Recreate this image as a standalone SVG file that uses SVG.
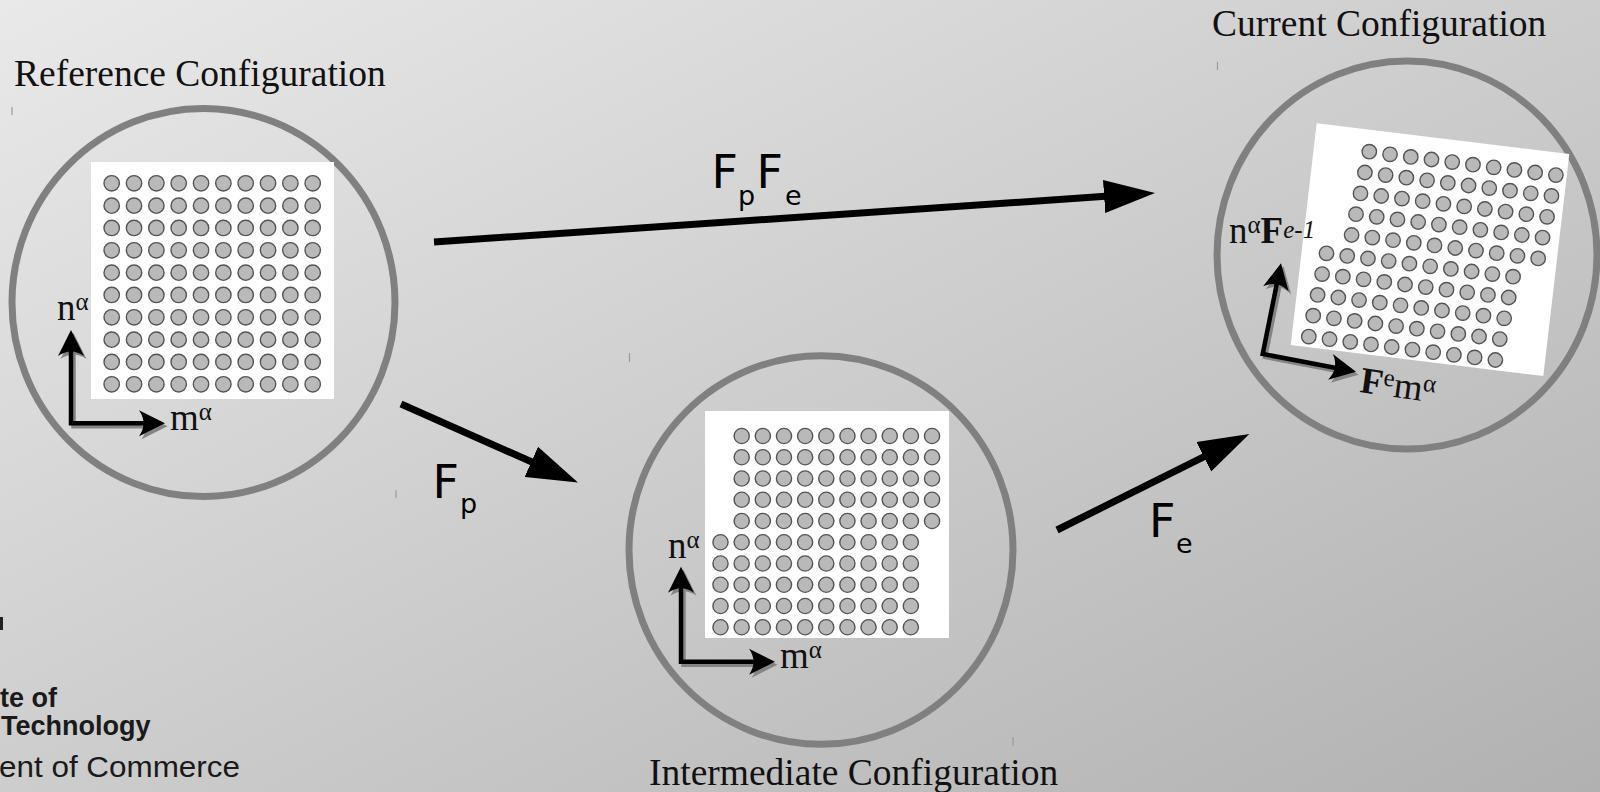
<svg xmlns="http://www.w3.org/2000/svg" xmlns:xlink="http://www.w3.org/1999/xlink" width="1600" height="792" viewBox="0 0 1600 792">
  <defs>
    <linearGradient id="bg" x1="0" y1="0" x2="1" y2="1">
      <stop offset="0" stop-color="#e9e9e9"/>
      <stop offset="1" stop-color="#b1b1b1"/>
    </linearGradient>
    <style>
      .ring { fill: none; stroke: #808080; stroke-width: 7; }
      .sheet { fill: #ffffff; }
      .dot { fill: #b9b9b9; stroke: #555555; stroke-width: 1.4; }
      .axis { fill: none; stroke: #000; stroke-width: 4.5; stroke-linejoin: miter; }
      .axis-sh { fill: none; stroke: #848484; stroke-width: 4.5; stroke-linejoin: miter; }
      .head { fill: #000; }
      .head-sh { fill: #848484; }
      .title { font-family: "Liberation Serif", "Times New Roman", serif; font-size: 37.5px; fill: #111; }
      .ax { font-family: "Liberation Serif", "Times New Roman", serif; font-size: 37px; fill: #111; }
      .axb { font-family: "Liberation Serif", "Times New Roman", serif; font-size: 37px; font-weight: bold; fill: #111; }
      .sup { font-size: 25px; }
      .map { font-family: "DejaVu Sans", "Open Sans", sans-serif; font-size: 46px; fill: #000; }
      .sub { font-size: 27px; }
      .flow { fill: none; stroke: #000; stroke-width: 7; }
      .tick { stroke: #9a9a9a; stroke-width: 1.2; }
      .logo { font-family: "Liberation Sans", Arial, sans-serif; fill: #1a1a1a; }
    </style>
    <!-- concave axis arrowhead, tip at origin pointing +x -->
    <path id="ah" d="M0,0 L-26,-13 Q-17,0 -26,13 Z"/>
    <!-- triangular head for the mapping arrows -->
    <marker id="tri" markerUnits="userSpaceOnUse" viewBox="0 -17 51 34" refX="5" refY="0" markerWidth="51" markerHeight="34" orient="auto">
      <path d="M0,-16.5 L51,0 L0,16.5 Z" fill="#000"/>
    </marker>
    <!-- rows of atoms -->
    <g id="rowA">
      <circle class="dot" cx="0" cy="0" r="7.7"/>
      <circle class="dot" cx="22.33" cy="0" r="7.7"/>
      <circle class="dot" cx="44.67" cy="0" r="7.7"/>
      <circle class="dot" cx="67" cy="0" r="7.7"/>
      <circle class="dot" cx="89.33" cy="0" r="7.7"/>
      <circle class="dot" cx="111.67" cy="0" r="7.7"/>
      <circle class="dot" cx="134" cy="0" r="7.7"/>
      <circle class="dot" cx="156.33" cy="0" r="7.7"/>
      <circle class="dot" cx="178.67" cy="0" r="7.7"/>
      <circle class="dot" cx="201" cy="0" r="7.7"/>
    </g>
    <g id="rowB">
      <circle class="dot" cx="0" cy="0" r="7.6"/>
      <circle class="dot" cx="21.15" cy="0" r="7.6"/>
      <circle class="dot" cx="42.3" cy="0" r="7.6"/>
      <circle class="dot" cx="63.45" cy="0" r="7.6"/>
      <circle class="dot" cx="84.6" cy="0" r="7.6"/>
      <circle class="dot" cx="105.75" cy="0" r="7.6"/>
      <circle class="dot" cx="126.9" cy="0" r="7.6"/>
      <circle class="dot" cx="148.05" cy="0" r="7.6"/>
      <circle class="dot" cx="169.2" cy="0" r="7.6"/>
      <circle class="dot" cx="190.35" cy="0" r="7.6"/>
    </g>
    <g id="rowC">
      <circle class="dot" cx="0" cy="0" r="7.2"/>
      <circle class="dot" cx="20.73" cy="2.6" r="7.2"/>
      <circle class="dot" cx="41.46" cy="5.2" r="7.2"/>
      <circle class="dot" cx="62.19" cy="7.8" r="7.2"/>
      <circle class="dot" cx="82.92" cy="10.4" r="7.2"/>
      <circle class="dot" cx="103.65" cy="13" r="7.2"/>
      <circle class="dot" cx="124.38" cy="15.6" r="7.2"/>
      <circle class="dot" cx="145.11" cy="18.2" r="7.2"/>
      <circle class="dot" cx="165.84" cy="20.8" r="7.2"/>
      <circle class="dot" cx="186.57" cy="23.4" r="7.2"/>
    </g>
  </defs>

  <rect width="1600" height="792" fill="url(#bg)"/>

  <!-- stray marks -->
  <g id="marks">
    <line class="tick" x1="12" y1="107" x2="12" y2="115"/>
    <line class="tick" x1="396" y1="490" x2="396" y2="498"/>
    <line class="tick" x1="629.5" y1="353" x2="629.5" y2="362"/>
    <line class="tick" x1="1013" y1="737" x2="1013" y2="746"/>
    <line class="tick" x1="1217.5" y1="62" x2="1217.5" y2="70"/>
    <rect x="0" y="617" width="3" height="13" fill="#222"/>
  </g>

  <!-- institution text, cut at the left edge -->
  <g id="logo">
    <text class="logo" x="0" y="707" font-size="27" font-weight="bold">te of</text>
    <text class="logo" x="1" y="735" font-size="27" font-weight="bold">Technology</text>
    <text class="logo" x="-1" y="777" font-size="30" textLength="241" lengthAdjust="spacingAndGlyphs">ent of Commerce</text>
  </g>

  <!-- Reference configuration -->
  <g id="reference">
    <text class="title" x="14" y="86">Reference Configuration</text>
    <ellipse class="ring" cx="203.5" cy="302.5" rx="191.5" ry="194"/>
    <rect class="sheet" x="91" y="162" width="243" height="237"/>
    <use href="#rowA" x="111.7" y="183.3"/>
    <use href="#rowA" x="111.7" y="205.63"/>
    <use href="#rowA" x="111.7" y="227.97"/>
    <use href="#rowA" x="111.7" y="250.3"/>
    <use href="#rowA" x="111.7" y="272.63"/>
    <use href="#rowA" x="111.7" y="294.97"/>
    <use href="#rowA" x="111.7" y="317.3"/>
    <use href="#rowA" x="111.7" y="339.63"/>
    <use href="#rowA" x="111.7" y="361.97"/>
    <use href="#rowA" x="111.7" y="384.3"/>
    <g transform="translate(2.5,3)">
      <path class="axis-sh" d="M71,349 V423.3 H146"/>
      <use href="#ah" class="head-sh" transform="translate(71,330) rotate(-90)"/>
      <use href="#ah" class="head-sh" transform="translate(165,423.3)"/>
    </g>
    <path class="axis" d="M71,349 V423.3 H146"/>
    <use href="#ah" class="head" transform="translate(71,330) rotate(-90)"/>
    <use href="#ah" class="head" transform="translate(165,423.3)"/>
    <text class="ax" x="57" y="320">n<tspan class="sup" dy="-10">α</tspan></text>
    <text class="ax" x="170" y="430">m<tspan class="sup" dy="-10">α</tspan></text>
  </g>

  <!-- Intermediate configuration -->
  <g id="intermediate">
    <text class="title" x="649" y="785">Intermediate Configuration</text>
    <ellipse class="ring" cx="821" cy="550" rx="192" ry="194.3"/>
    <rect class="sheet" x="705" y="411" width="244" height="227"/>
    <use href="#rowB" x="741.7" y="436"/>
    <use href="#rowB" x="741.7" y="457.25"/>
    <use href="#rowB" x="741.7" y="478.5"/>
    <use href="#rowB" x="741.7" y="499.75"/>
    <use href="#rowB" x="741.7" y="521"/>
    <use href="#rowB" x="720.5" y="542.25"/>
    <use href="#rowB" x="720.5" y="563.5"/>
    <use href="#rowB" x="720.5" y="584.75"/>
    <use href="#rowB" x="720.5" y="606"/>
    <use href="#rowB" x="720.5" y="627.25"/>
    <g transform="translate(2.5,3)">
      <path class="axis-sh" d="M681,585.7 V661.7 H756"/>
      <use href="#ah" class="head-sh" transform="translate(681,566.7) rotate(-90)"/>
      <use href="#ah" class="head-sh" transform="translate(775,661.7)"/>
    </g>
    <path class="axis" d="M681,585.7 V661.7 H756"/>
    <use href="#ah" class="head" transform="translate(681,566.7) rotate(-90)"/>
    <use href="#ah" class="head" transform="translate(775,661.7)"/>
    <text class="ax" x="668" y="558">n<tspan class="sup" dy="-10">α</tspan></text>
    <text class="ax" x="780" y="668">m<tspan class="sup" dy="-10">α</tspan></text>
  </g>

  <!-- Current configuration -->
  <g id="current">
    <text class="title" x="1212" y="36">Current Configuration</text>
    <ellipse class="ring" cx="1407" cy="255" rx="190" ry="194"/>
    <polygon class="sheet" points="1316.7,123.3 1569.3,154 1543.3,376 1290.7,345"/>
    <use href="#rowC" x="1369.3" y="151.7"/>
    <use href="#rowC" x="1364.9" y="172.5"/>
    <use href="#rowC" x="1360.5" y="193.4"/>
    <use href="#rowC" x="1356" y="214.2"/>
    <use href="#rowC" x="1351.6" y="235"/>
    <use href="#rowC" x="1326.5" y="253.3"/>
    <use href="#rowC" x="1322.1" y="274.1"/>
    <use href="#rowC" x="1317.6" y="294.9"/>
    <use href="#rowC" x="1313.2" y="315.7"/>
    <use href="#rowC" x="1308.8" y="336.6"/>
    <g transform="translate(2.5,3)">
      <path class="axis-sh" d="M1277.2,281.9 L1262.7,354 L1337.3,368.2"/>
      <use href="#ah" class="head-sh" transform="translate(1281,263.3) rotate(-78.6)"/>
      <use href="#ah" class="head-sh" transform="translate(1356,371.7) rotate(10.7)"/>
    </g>
    <path class="axis" d="M1277.2,281.9 L1262.7,354 L1337.3,368.2"/>
    <use href="#ah" class="head" transform="translate(1281,263.3) rotate(-78.6)"/>
    <use href="#ah" class="head" transform="translate(1356,371.7) rotate(10.7)"/>
    <text class="ax" x="1229" y="243">n<tspan class="sup" dy="-10">α</tspan><tspan class="axb" dy="10">F</tspan><tspan class="sup" font-style="italic" dy="-5">e-1</tspan></text>
    <text class="axb" x="1359" y="392" transform="rotate(8 1359 392)">F<tspan class="sup" font-weight="normal" dy="-10">e</tspan><tspan font-weight="normal" dy="10">m</tspan><tspan class="sup" font-weight="normal" dy="-10">α</tspan></text>
  </g>

  <!-- mapping arrows -->
  <g id="connectors">
    <line class="flow" x1="434" y1="242" x2="1109.1" y2="196.1" marker-end="url(#tri)"/>
    <line class="flow" x1="401" y1="404" x2="535.9" y2="463.8" marker-end="url(#tri)"/>
    <line class="flow" x1="1057" y1="530" x2="1208.2" y2="454.6" marker-end="url(#tri)"/>
    <text class="map" x="711.5" y="188">F<tspan class="sub" x="738" y="205">p</tspan><tspan x="756.5" y="188">F</tspan><tspan class="sub" x="785" y="205">e</tspan></text>
    <text class="map" x="432.5" y="498">F<tspan class="sub" x="460" y="513">p</tspan></text>
    <text class="map" x="1149" y="537">F<tspan class="sub" x="1176" y="553">e</tspan></text>
  </g>
</svg>
